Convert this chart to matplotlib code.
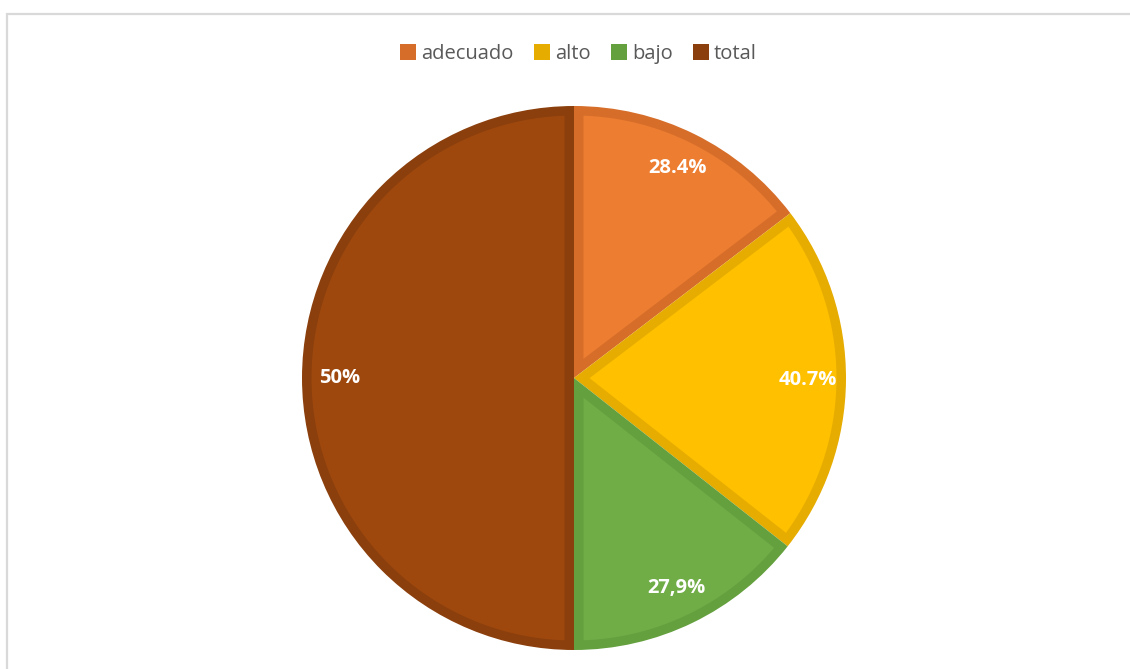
import matplotlib
matplotlib.use("Agg")
import matplotlib.pyplot as plt
from matplotlib.patches import Patch, Rectangle, Polygon
import numpy as np

# data
categories = ["adecuado", "alto", "bajo", "total"]
values = [28.4, 40.7, 27.9, 97.0]
value_labels = ["28.4%", "40.7%", "27,9%", "50%"]

fill_colors = ["#ED7D31", "#FFC000", "#70AD47", "#9E480E"]
edge_colors = ["#D66E2A", "#E6AC00", "#64A03E", "#8B3F0C"]

fig = plt.figure(figsize=(11.3, 6.69), dpi=100)

# chart frame (only top/left visible, like the cropped screenshot)
fig.patches.append(Rectangle((7 / 1130, -0.1), 1.2, 1.1 - 14 / 669,
                             transform=fig.transFigure, fill=False,
                             edgecolor="#D9D9D9", linewidth=1.6))

ax = fig.add_axes([302 / 1130, 19 / 669, 544 / 1130, 544 / 669])
# outer pie in the border colour, then an inset lighter face per slice
wedges, _ = ax.pie(values, colors=edge_colors, startangle=90, counterclock=False,
                   radius=1.0, wedgeprops={"linewidth": 0})

b = 0.035  # border width in data units
for w, fc in zip(wedges, fill_colors):
    t1, t2 = np.deg2rad(w.theta1), np.deg2rad(w.theta2)
    half = (t2 - t1) / 2
    mid = (t1 + t2) / 2
    d = b / np.sin(min(half, np.pi / 2))
    R = w.r - b
    delta = np.arcsin(b / R)
    arc = np.linspace(t1 + delta, t2 - delta, 200)
    pts = [(d * np.cos(mid), d * np.sin(mid))] + list(zip(R * np.cos(arc), R * np.sin(arc)))
    ax.add_patch(Polygon(pts, closed=True, facecolor=fc, edgecolor="none"))

for w, txt in zip(wedges, value_labels):
    mid = np.deg2rad((w.theta1 + w.theta2) / 2)
    d = 0.86
    ax.text(d * np.cos(mid), d * np.sin(mid), txt, ha="center", va="center",
            color="white", fontsize=14.5, fontweight="bold", family="Open Sans")

ax.set_xlim(-1, 1)
ax.set_ylim(-1, 1)
ax.set_aspect("equal")
ax.axis("off")

handles = [Patch(facecolor=c, edgecolor="none") for c in edge_colors]
leg = fig.legend(handles, categories, loc="center", bbox_to_anchor=(0.512, 1 - 54 / 669),
                 ncol=4, frameon=False, handlelength=0.8, handleheight=0.8,
                 handletextpad=0.25, columnspacing=1.0,
                 prop={"family": "Open Sans", "size": 14.5})
for t in leg.get_texts():
    t.set_color("#595959")

fig.savefig("out.png", dpi=100)
